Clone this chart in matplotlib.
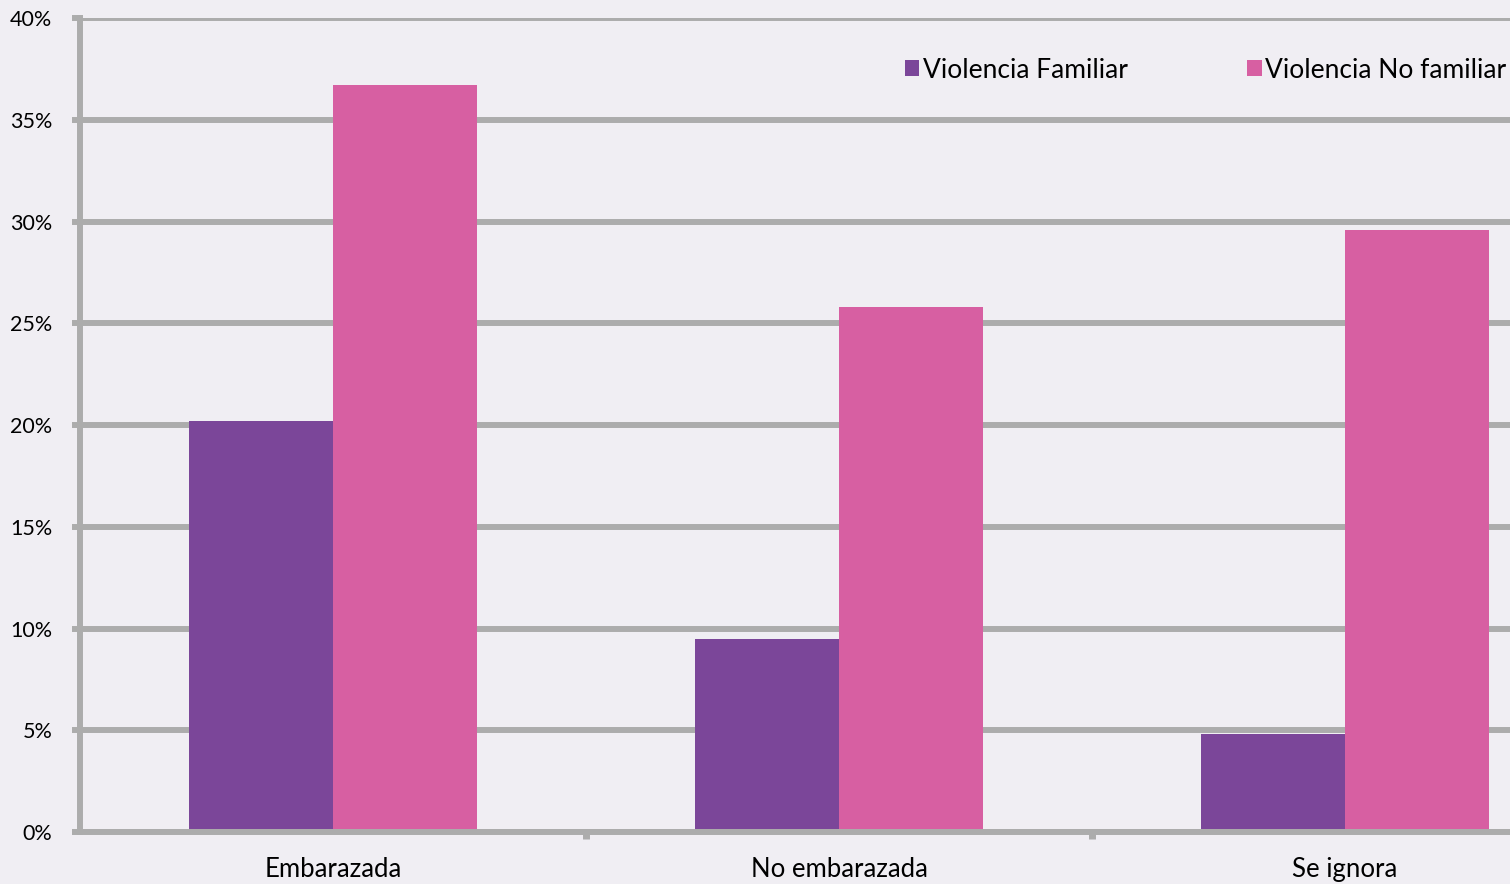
import numpy as np
import matplotlib.pyplot as plt
from matplotlib.ticker import FixedLocator, FuncFormatter

plt.rcParams['font.family'] = ['Lato', 'DejaVu Sans']

# Data
categories = ['Embarazada', 'No embarazada', 'Se ignora']
violencia_familiar = [20.2, 9.5, 4.8]
violencia_no_familiar = [36.7, 25.8, 29.6]
series_names = ['Violencia Familiar', 'Violencia No familiar']

bg = '#f0eef3'
grid_col = '#acacac'
purple = '#7b4699'
pink = '#d75fa2'

fig = plt.figure(figsize=(15.10, 8.84), dpi=100, facecolor=bg)
ax = fig.add_axes([0.053, 0.0588, 0.947, 0.9208], facecolor=bg)

x = np.arange(len(categories))
w = 0.285
ax.bar(x - w / 2, violencia_familiar, w, color=purple, label=series_names[0], zorder=2)
ax.bar(x + w / 2, violencia_no_familiar, w, color=pink, label=series_names[1], zorder=2)

ax.set_ylim(0, 40)
ax.set_xlim(-0.5, 2.326)

ax.set_yticks(np.arange(0, 41, 5))
ax.yaxis.set_major_formatter(FuncFormatter(lambda v, p: f'{int(v)}%'))
ax.grid(axis='y', color=grid_col, linewidth=4.3, zorder=1)
ax.set_axisbelow(True)

ax.set_xticks(x)
ax.set_xticklabels(categories, fontsize=18.5)
ax.xaxis.set_minor_locator(FixedLocator([0.5, 1.5]))
ax.tick_params(axis='x', which='major', length=0, pad=18)
ax.tick_params(axis='x', which='minor', length=5, width=5, color=grid_col)
ax.tick_params(axis='y', length=6, width=4.3, color=grid_col, labelsize=15.5, pad=14)

for s in ['top', 'right']:
    ax.spines[s].set_visible(False)
for s in ['left', 'bottom']:
    ax.spines[s].set_color(grid_col)
    ax.spines[s].set_linewidth(4.3)
    ax.spines[s].set_zorder(3)

ax.legend(ncol=2, loc='center right', bbox_to_anchor=(1.005, 0.936), frameon=False,
          fontsize=19, handlelength=0.55, handleheight=0.55, handletextpad=0.15,
          columnspacing=4.5, borderaxespad=0)

fig.savefig('out.png', dpi=100, facecolor=bg)
